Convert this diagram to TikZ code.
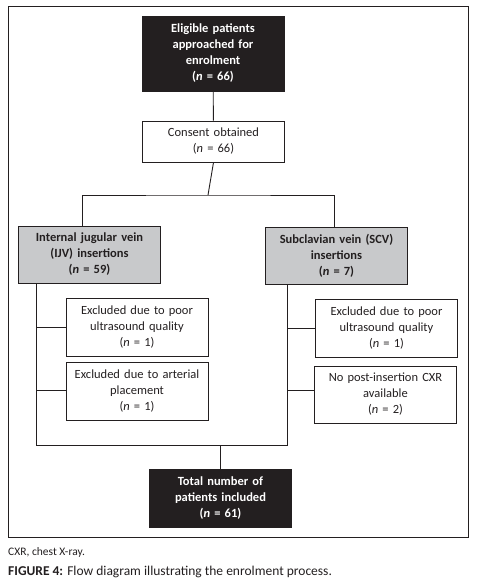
\documentclass[tikz,border=0pt]{standalone}
\usepackage{fontspec}
\setmainfont{Carlito}
\usepackage{tikz}
\usetikzlibrary{positioning}
\definecolor{boxgray}{RGB}{200,201,203}
\definecolor{ink}{RGB}{35,31,32}

\begin{document}
\begin{tikzpicture}[x=1pt,y=-1pt,
		flowbox/.style={draw=ink, line width=0.9pt, align=center, inner sep=2pt,
			minimum width=141pt, text width=138pt, font=\fontsize{12.5}{16}\selectfont, text=ink},
		darkbox/.style={flowbox, fill=ink, text=white, font=\fontsize{12.5}{16}\selectfont\bfseries},
		graybox/.style={flowbox, fill=boxgray, font=\fontsize{12.5}{16}\selectfont\bfseries},
		link/.style={draw=ink, line width=0.9pt}]
		% Page size and outer frame
		\useasboundingbox (0,0) rectangle (480,583);
		\draw[link] (8,6) rectangle (468,537);
		% Top and consent boxes
		\node[darkbox, minimum height=75pt] (elig) at (213,53.5) {Eligible patients\\approached for\\enrolment\\(\textit{n} = 66)};
		\node[flowbox, minimum height=41pt] (consent) at (213.5,141.5) {Consent obtained\\(\textit{n} = 66)};
		% Insertion sites
		\node[graybox, minimum height=57pt] (ijv) at (89.5,254.5) {Internal jugular vein\\(IJV) insertions\\(\textit{n} = 59)};
		\node[graybox, minimum height=57pt] (scv) at (336.5,255.5) {Subclavian vein (SCV)\\insertions\\(\textit{n} = 7)};
		% Exclusions
		\node[flowbox, minimum height=58pt] (exl1) at (137,327) {Excluded due to poor\\ultrasound quality\\(\textit{n} = 1)};
		\node[flowbox, minimum height=58pt] (exl2) at (137,391) {Excluded due to arterial\\placement\\(\textit{n} = 1)};
		\node[flowbox, minimum height=58pt] (exr1) at (386.5,328) {Excluded due to poor\\ultrasound quality\\(\textit{n} = 1)};
		\node[flowbox, minimum height=57pt] (exr2) at (385.5,394.5) {No post-insertion CXR\\available\\(\textit{n} = 2)};
		% Final count
		\node[darkbox, minimum height=58pt] (total) at (220.5,498) {Total number of\\patients included\\(\textit{n} = 61)};
		% Connector corners
		\coordinate (split) at (208,195);
		\coordinate (ltop) at (36,283);
		\coordinate (lbot) at (36,445);
		\coordinate (rtop) at (287,284);
		\coordinate (rbot) at (287,445);
		% Connectors
		\draw[link] (elig) -- (consent);
		\draw[link] (consent.south) -- (split);
		\draw[link] ([xshift=-7.5pt]ijv.north) |- (split) -| ([xshift=-2.5pt]scv.north);
		\draw[link] (ltop) -- (lbot) -- (rbot) -- (rtop);
		\draw[link] (exl1.west) -- (exl1.west -| ltop);
		\draw[link] ([yshift=1pt]exl2.west) -- ([yshift=1pt]exl2.west -| ltop);
		\draw[link] (exr1.west) -- (exr1.west -| rtop);
		\draw[link] ([yshift=4.5pt]exr2.west) -- ([yshift=4.5pt]exr2.west -| rtop);
		\draw[link] (total.north) -- (total.north |- lbot);
		% Caption
		\node[anchor=west, text=ink, font=\fontsize{11.5}{13}\selectfont, inner sep=0pt] (note) at (8,552) {CXR, chest X-ray.};
		\node[anchor=west, text=ink, font=\fontsize{13.5}{15}\selectfont, inner sep=0pt] (caption) at (8,572) {\textbf{FIGURE 4:} Flow diagram illustrating the enrolment process.};
	\end{tikzpicture}
\end{document}
